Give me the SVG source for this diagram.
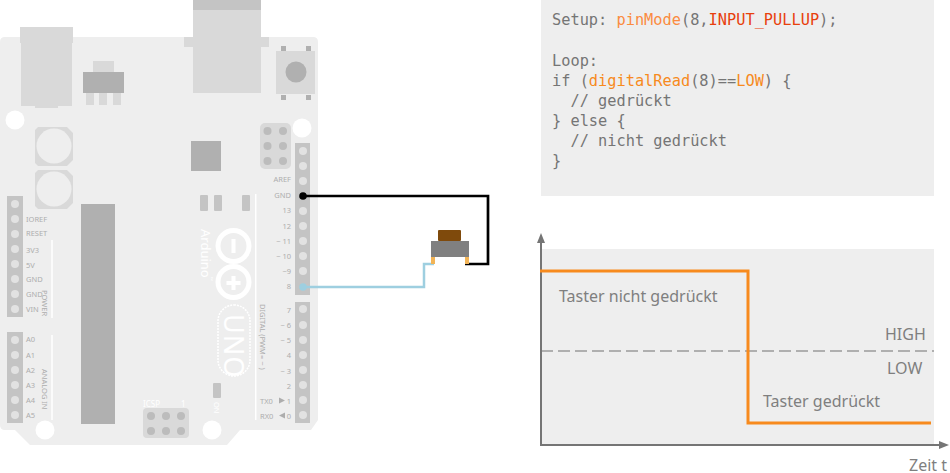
<svg xmlns="http://www.w3.org/2000/svg" width="950" height="473" viewBox="0 0 950 473">
<style>
.bd{fill:#eeeeee}.l{fill:#d9d9d9}.m{fill:#c4c4c4}.d{fill:#b0b0b0}.h{fill:#ffffff}.p{fill:#e2e2e2}.ip{fill:#bcbcbc}
.s{font-family:"Noto Sans","Liberation Sans",sans-serif;font-size:7.5px;fill:#adadad}
.e{text-anchor:end}
.w{fill:#ffffff;font-family:"Noto Sans","Liberation Sans",sans-serif}
.c{font-family:"DejaVu Sans Mono","Liberation Mono",monospace;font-size:15.3px;fill:#757575;white-space:pre}
.o{fill:#f78a1d}.o2{fill:#fb8b3f}.r{fill:#e8400c}
.t{font-family:"Noto Sans","Liberation Sans",sans-serif;font-size:16px;fill:#7f7f7f}
.wl{stroke:#ffffff;stroke-width:1.5;fill:none}
.ax{stroke:#757575;stroke-width:2;fill:none}
</style>
<g id="arduino-board">
<path class="bd" d="M5 37H313Q318 37 318 42V420L311 430H240L227 445H30L15 430H5Q0 430 0 425V42Q0 37 5 37Z"/>
<path class="l" d="M20 27H73V43H72V106H58V108H35V106H21V43H20Z"/>
<path class="l" d="M193 10H261V37H269V47H261V93H193V47H184V37H193Z"/>
<rect class="m" x="193" y="0" width="68" height="10"/>
<rect class="l" x="93" y="61" width="21" height="12"/>
<rect class="d" x="83" y="72" width="41" height="21"/>
<rect class="l" x="86" y="93" width="8" height="12"/><rect class="l" x="99" y="93" width="8" height="12"/><rect class="l" x="113" y="93" width="8" height="12"/>
<rect class="l" x="276" y="51" width="39" height="43"/>
<circle class="d" cx="296" cy="72" r="10.5"/>
<rect class="d" x="281" y="46" width="5" height="5"/><rect class="d" x="306" y="46" width="5" height="5"/><rect class="d" x="281" y="95" width="5" height="5"/><rect class="d" x="306" y="95" width="5" height="5"/>
<circle class="h" cx="15" cy="120" r="9.5"/><circle class="h" cx="302" cy="128" r="9.5"/><circle class="h" cx="45" cy="430" r="9.5"/><circle class="h" cx="212" cy="430" r="9.5"/>
<path class="l" d="M38 127H67L73 133V160L67 166H38L35 163V130Z"/><circle class="bd" cx="54" cy="146" r="17.5"/>
<path class="l" d="M38 170H67L73 176V203L67 209H38L35 206V173Z"/><circle class="bd" cx="54" cy="189" r="17.5"/>
<rect class="d" x="81" y="204" width="34" height="220"/>
<rect class="d" x="191" y="141" width="30" height="30"/>
<rect class="l" x="260" y="123" width="31" height="46" rx="5"/>
<g class="ip"><circle cx="267.500" cy="131" r="4"/><circle cx="283" cy="131" r="4"/><circle cx="267.500" cy="146" r="4"/><circle cx="283" cy="146" r="4"/><circle cx="267.500" cy="161" r="4"/><circle cx="283" cy="161" r="4"/></g>
<rect class="m" x="295" y="143" width="15" height="152"/><rect class="m" x="295" y="302" width="15" height="121"/>
<rect class="m" x="7" y="196" width="16" height="121"/><rect class="m" x="7" y="332" width="16" height="91"/>
<g class="p">
<circle cx="303" cy="151" r="4"/><circle cx="303" cy="166" r="4"/><circle cx="303" cy="181" r="4"/><circle cx="303" cy="211" r="4"/><circle cx="303" cy="226" r="4"/><circle cx="303" cy="241" r="4"/><circle cx="303" cy="256" r="4"/><circle cx="303" cy="271" r="4"/>
<circle cx="303" cy="309" r="4"/><circle cx="303" cy="325" r="4"/><circle cx="303" cy="340" r="4"/><circle cx="303" cy="355" r="4"/><circle cx="303" cy="370" r="4"/><circle cx="303" cy="385" r="4"/><circle cx="303" cy="400" r="4"/><circle cx="303" cy="415" r="4"/>
<circle cx="15" cy="204" r="4"/><circle cx="15" cy="219" r="4"/><circle cx="15" cy="234" r="4"/><circle cx="15" cy="249" r="4"/><circle cx="15" cy="264" r="4"/><circle cx="15" cy="279" r="4"/><circle cx="15" cy="294" r="4"/><circle cx="15" cy="309" r="4"/>
<circle cx="15" cy="340" r="4"/><circle cx="15" cy="355" r="4"/><circle cx="15" cy="370" r="4"/><circle cx="15" cy="385" r="4"/><circle cx="15" cy="400" r="4"/><circle cx="15" cy="415" r="4"/>
</g>
<rect class="m" x="200" y="195" width="8" height="16" rx="1"/><rect class="m" x="214" y="195" width="8" height="16" rx="1"/><rect class="m" x="242" y="195" width="8" height="16" rx="1"/><rect class="m" x="213" y="383" width="8" height="15" rx="1"/>
<path class="wl" d="M255.700 194V420M52 240V318M52 335V420"/>
<circle cx="233.500" cy="246" r="15.500" fill="none" stroke="#fff" stroke-width="5"/>
<circle cx="233.500" cy="282" r="15.500" fill="none" stroke="#fff" stroke-width="5"/>
<rect class="h" x="231.500" y="239" width="4" height="14"/>
<rect class="h" x="231.500" y="276" width="4" height="14"/><rect class="h" x="226.500" y="281" width="14" height="4"/>
<text class="w" font-size="13" transform="translate(201 229) rotate(90)">Arduino</text>
<text class="w" font-size="5" transform="translate(209 277) rotate(90)">™</text>
<rect x="218" y="305" width="32" height="71" rx="16" fill="none" stroke="#fff" stroke-width="1.500" stroke-dasharray="2 1"/>
<text class="w" font-size="27" font-weight="400" letter-spacing="1" transform="translate(224 314) rotate(90)">UNO</text>
<text class="w" font-size="8" x="143" y="407">ICSP</text><text class="w" font-size="8" x="181" y="407">1</text>
<text class="w" font-size="7.500" transform="translate(214 402) rotate(90)">ON</text>
<rect class="l" x="143" y="408" width="46" height="30" rx="4"/>
<g class="ip"><circle cx="151" cy="416" r="4"/><circle cx="166" cy="416" r="4"/><circle cx="181" cy="416" r="4"/><circle cx="151" cy="431" r="4"/><circle cx="166" cy="431" r="4"/><circle cx="181" cy="431" r="4"/></g>
<g class="s e">
<text x="291" y="182">AREF</text><text x="291" y="198">GND</text><text x="291" y="213">13</text><text x="291" y="229">12</text><text x="291" y="244">~ 11</text><text x="291" y="259">~ 10</text><text x="291" y="274">~9</text><text x="291" y="289">8</text>
<text x="291" y="313">7</text><text x="291" y="328">~ 6</text><text x="291" y="343">~ 5</text><text x="291" y="358">4</text><text x="291" y="374">~ 3</text><text x="291" y="389">2</text><text x="291" y="404">1</text><text x="291" y="419">0</text>
</g>
<g class="s">
<text x="260" y="404">TX0</text><text x="260" y="419">RX0</text>
<text x="26" y="222">IOREF</text><text x="26" y="236">RESET</text><text x="26" y="253">3V3</text><text x="26" y="268">5V</text><text x="26" y="282">GND</text><text x="26" y="297">GND</text><text x="26" y="312">VIN</text>
<text x="26" y="342">A0</text><text x="26" y="358">A1</text><text x="26" y="373">A2</text><text x="26" y="388">A3</text><text x="26" y="403">A4</text><text x="26" y="418">A5</text>
<text transform="translate(260 304) rotate(90)">DIGITAL (PWM= ~ )</text>
<text transform="translate(42 290) rotate(90)">POWER</text>
<text transform="translate(42 369) rotate(90)">ANALOG IN</text>
</g>
<path fill="#adadad" d="M279 397.500L285 400.500L279 403.500ZM285 412.500L279 415.500L285 418.500Z"/>
</g>
<g id="connectors">
<path d="M303 196H488V264H465" fill="none" stroke="#000" stroke-width="2.700"/>
<circle cx="303" cy="196" r="3.800" fill="#000"/>
<path d="M303 287H424V264H434" fill="none" stroke="#9ecfe0" stroke-width="2.500"/>
<circle cx="303" cy="287" r="3.800" fill="#9ecfe0"/>
</g>
<g id="switch">
<rect x="431" y="257" width="4" height="7" fill="#f2b457"/><rect x="465" y="257" width="4" height="7" fill="#f2b457"/>
<rect x="431" y="241" width="38" height="16" fill="#808080"/>
<rect x="438" y="230" width="23" height="11" rx="1" fill="#7f4a0c"/>
</g>
<g id="code-panel">
<rect class="bd" x="541" y="0" width="393" height="196"/>
<text class="c" x="552" y="25">Setup: <tspan class="o2">pinMode</tspan>(8,<tspan class="r">INPUT_PULLUP</tspan>);</text>
<text class="c" x="552" y="66">Loop:</text>
<text class="c" x="552" y="86">if (<tspan class="o">digitalRead</tspan>(8)==<tspan class="o">LOW</tspan>) {</text>
<text class="c" x="552" y="106">  // gedrückt</text>
<text class="c" x="552" y="126">} else {</text>
<text class="c" x="552" y="146">  // nicht gedrückt</text>
<text class="c" x="552" y="166">}</text>
</g>
<g id="chart">
<rect class="bd" x="541" y="249" width="393" height="196"/>
<path d="M541 351H934" stroke="#9a9a9a" stroke-width="1.500" stroke-dasharray="12 5" fill="none"/>
<path class="ax" d="M541 240V446M540 445H943"/>
<path fill="#757575" d="M541 233L545 243H537ZM949 445L939 441V449Z"/>
<path d="M540 271H748V423H931" fill="none" stroke="#f78a1d" stroke-width="3"/>
<text class="t" x="559" y="302">Taster nicht gedrückt</text>
<text class="t" x="885" y="340">HIGH</text>
<text class="t" x="887" y="374">LOW</text>
<text class="t" x="763" y="407">Taster gedrückt</text>
<text class="t" x="909" y="471">Zeit t</text>
</g>
</svg>
